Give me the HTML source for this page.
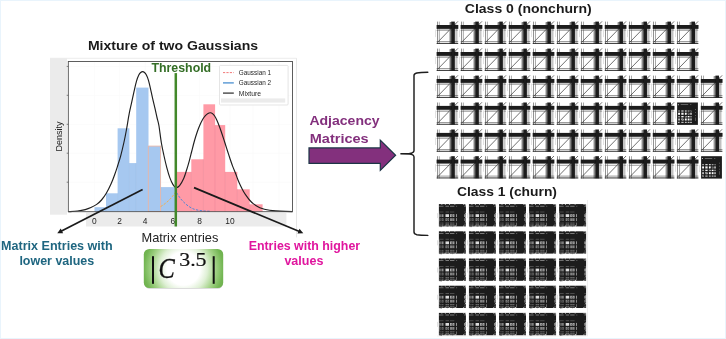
<!DOCTYPE html>
<html><head><meta charset="utf-8"><title>Mixture of two Gaussians</title>
<style>
html,body{margin:0;padding:0;background:#fff;}
body{width:726px;height:339px;overflow:hidden;font-family:"Liberation Sans", sans-serif;}
svg{display:block;}
text{font-family:"Liberation Sans", sans-serif;}
.b{font-weight:bold;}
.ser{font-family:"Liberation Serif", serif;}
</style></head><body>
<svg width="726" height="339" viewBox="0 0 726 339">
<defs>
<radialGradient id="gg" gradientUnits="userSpaceOnUse" cx="183.5" cy="268.6" r="46">
<stop offset="0" stop-color="#ffffff"/><stop offset="0.36" stop-color="#ffffff"/><stop offset="0.52" stop-color="#dff0d5"/><stop offset="0.7" stop-color="#a2d286"/><stop offset="0.86" stop-color="#73b653"/><stop offset="1" stop-color="#69ad48"/>
</radialGradient>
<filter id="bl" x="-10%" y="-10%" width="120%" height="120%"><feGaussianBlur stdDeviation="0.16"/></filter>
<filter id="bl2" x="-10%" y="-10%" width="120%" height="120%"><feGaussianBlur stdDeviation="0.5"/></filter>

<g id="t0">
<rect x="0" y="0" width="20.8" height="22.2" fill="#fff"/>
<rect x="-1.9" y="8" width="0.5" height="7.5" fill="#c4c4c4"/>
<rect x="0.25" y="0" width="0.55" height="22.2" fill="#3a3a3a"/>
<rect x="2.0" y="0" width="0.5" height="22.2" fill="#555"/>
<rect x="0" y="7.2" width="20.8" height="0.8" fill="#a0a0a0"/>
<rect x="-0.3" y="8.9" width="21.4" height="0.45" fill="#555"/>
<rect x="12.2" y="0.6" width="1.0" height="21.6" fill="#bdbdbd"/>
<rect x="13.2" y="0.4" width="1.2" height="21.8" fill="#6a6a6a"/>
<rect x="17.7" y="2" width="0.8" height="20.2" fill="#7a7a7a"/>
<rect x="18.5" y="3" width="0.7" height="19.2" fill="#d6d6d6"/>
<rect x="19.4" y="3" width="0.4" height="19.2" fill="#777"/>
<rect x="20.4" y="3" width="0.35" height="19.2" fill="#aaa"/>
<line x1="0.7" y1="20.7" x2="21.0" y2="-0.2" stroke="#222" stroke-width="0.65"/>
<rect x="-0.3" y="19.6" width="21.6" height="0.5" fill="#3a3a3a"/>
<rect x="-0.3" y="21.3" width="21.6" height="0.9" fill="#1a1a1a"/>
<rect x="-0.3" y="3.4" width="21.7" height="3.85" fill="#1a1a1a"/>
<rect x="14.3" y="0" width="3.6" height="22.2" fill="#1a1a1a"/>
</g>
<g id="t0b">
<rect x="0" y="0" width="20.8" height="22.4" fill="#1c1c1c"/>
<rect x="1.0" y="8.0" width="1.9" height="1.0" fill="#fff" opacity="0.7"/><rect x="4.2" y="8.0" width="2.3" height="1.0" fill="#fff" opacity="1.0"/><rect x="7.8" y="8.0" width="1.8" height="1.0" fill="#fff" opacity="1.0"/><rect x="10.6" y="8.0" width="1.8" height="1.0" fill="#fff" opacity="0.7"/><rect x="13.3" y="8.0" width="1.2" height="1.0" fill="#fff" opacity="0.85"/><rect x="1.0" y="10.2" width="1.9" height="2.1" fill="#fff" opacity="1.0"/><rect x="4.2" y="10.2" width="2.3" height="2.1" fill="#fff" opacity="0.95"/><rect x="7.8" y="10.2" width="1.8" height="2.1" fill="#fff" opacity="1.0"/><rect x="10.6" y="10.2" width="1.8" height="2.1" fill="#fff" opacity="0.55"/><rect x="13.3" y="10.2" width="1.2" height="2.1" fill="#fff" opacity="1.0"/><rect x="1.0" y="13.5" width="1.9" height="1.4" fill="#fff" opacity="0.55"/><rect x="4.2" y="13.5" width="2.3" height="1.4" fill="#fff" opacity="0.95"/><rect x="7.8" y="13.5" width="1.8" height="1.4" fill="#fff" opacity="0.85"/><rect x="10.6" y="13.5" width="1.8" height="1.4" fill="#fff" opacity="1.0"/><rect x="13.3" y="13.5" width="1.2" height="1.4" fill="#fff" opacity="0.7"/><rect x="1.0" y="16.0" width="1.9" height="2.0" fill="#fff" opacity="0.7"/><rect x="4.2" y="16.0" width="2.3" height="2.0" fill="#fff" opacity="0.95"/><rect x="7.8" y="16.0" width="1.8" height="2.0" fill="#fff" opacity="1.0"/><rect x="10.6" y="16.0" width="1.8" height="2.0" fill="#fff" opacity="1.0"/><rect x="13.3" y="16.0" width="1.2" height="2.0" fill="#fff" opacity="0.95"/><rect x="1.0" y="19.3" width="1.9" height="1.2" fill="#fff" opacity="0.95"/><rect x="4.2" y="19.3" width="2.3" height="1.2" fill="#fff" opacity="0.7"/><rect x="7.8" y="19.3" width="1.8" height="1.2" fill="#fff" opacity="0.7"/><rect x="10.6" y="19.3" width="1.8" height="1.2" fill="#fff" opacity="0.7"/><rect x="13.3" y="19.3" width="1.2" height="1.2" fill="#fff" opacity="1.0"/>
<line x1="0.8" y1="21.4" x2="14.6" y2="7.6" stroke="#1c1c1c" stroke-width="0.7"/>
<rect x="3.6" y="2.0" width="7.5" height="0.5" fill="#aaa"/>
<rect x="0.8" y="1.8" width="1.0" height="0.9" fill="#ddd"/>
<rect x="13" y="2.0" width="1.2" height="0.5" fill="#999"/>
<rect x="18.4" y="6.5" width="0.5" height="1" fill="#999"/><rect x="18.4" y="9.5" width="0.5" height="1" fill="#999"/><rect x="18.4" y="12.5" width="0.5" height="1" fill="#999"/><rect x="18.4" y="15" width="0.5" height="3.5" fill="#888"/>
<rect x="-1.6" y="9" width="0.5" height="7" fill="#c4c4c4"/>
</g>
<g id="t1">
<rect x="0" y="0" width="27.0" height="22.3" fill="#1b1b1b"/>
<g fill="#fff">
<rect x="2.7" y="-0.1" width="0.6" height="0.9"/><rect x="6.0" y="-0.1" width="0.7" height="0.9"/><rect x="10.3" y="-0.1" width="0.7" height="0.9"/><rect x="15.7" y="-0.1" width="0.6" height="0.8"/><rect x="24.6" y="-0.1" width="0.7" height="1.0"/><rect x="26.5" y="-0.1" width="0.6" height="1.6"/>
<rect x="2.7" y="21.6" width="0.6" height="0.8"/><rect x="5.8" y="21.4" width="0.8" height="1.0"/><rect x="10.3" y="21.5" width="0.7" height="0.9"/><rect x="15.8" y="21.3" width="0.9" height="1.1"/><rect x="24.4" y="21.5" width="0.7" height="0.9"/>
<rect x="26.4" y="9.2" width="0.7" height="0.7"/><rect x="26.4" y="13.1" width="0.7" height="0.9"/><rect x="26.4" y="17.3" width="0.7" height="0.9"/>
<rect x="-0.1" y="8.8" width="0.5" height="0.8"/><rect x="-0.1" y="13.1" width="0.5" height="0.9"/><rect x="-0.1" y="17.2" width="0.5" height="0.9"/>
</g>
<rect x="-1.9" y="9" width="0.6" height="5" fill="#cdcdcd"/>
<rect x="0" y="1.7" width="4.6" height="0.8" fill="#c8c8c8" opacity="0.6"/><rect x="6.6" y="1.7" width="3.5" height="0.8" fill="#c8c8c8" opacity="0.7"/><rect x="11.1" y="1.7" width="4.4" height="0.8" fill="#c8c8c8" opacity="0.7"/><rect x="25.2" y="1.7" width="1.8" height="0.8" fill="#c8c8c8" opacity="0.6"/><rect x="17.2" y="1.7" width="1.0" height="0.8" fill="#bbb" opacity=".6"/><rect x="0" y="7.5" width="4.6" height="0.8" fill="#c8c8c8" opacity="0.35"/><rect x="6.6" y="7.5" width="3.5" height="0.8" fill="#c8c8c8" opacity="0.4"/><rect x="11.1" y="7.5" width="4.4" height="0.8" fill="#c8c8c8" opacity="0.35"/><rect x="25.2" y="7.5" width="1.8" height="0.8" fill="#c8c8c8" opacity="0.3"/><rect x="0" y="10.1" width="4.6" height="2.8" fill="#ececec" opacity="0.55"/><rect x="6.6" y="10.1" width="3.5" height="2.8" fill="#ececec" opacity="0.92"/><rect x="11.1" y="10.1" width="4.4" height="2.8" fill="#ececec" opacity="0.7"/><rect x="25.2" y="10.1" width="1.8" height="2.8" fill="#ececec" opacity="0.6"/><rect x="0" y="14.1" width="4.6" height="2.8" fill="#ececec" opacity="0.42"/><rect x="6.6" y="14.1" width="3.5" height="2.8" fill="#ececec" opacity="0.55"/><rect x="11.1" y="14.1" width="4.4" height="2.8" fill="#ececec" opacity="0.5"/><rect x="25.2" y="14.1" width="1.8" height="2.8" fill="#ececec" opacity="0.45"/><rect x="0" y="18.6" width="4.6" height="0.7" fill="#d8d8d8" opacity="0.5"/><rect x="6.6" y="18.6" width="3.5" height="0.7" fill="#d8d8d8" opacity="0.6"/><rect x="11.1" y="18.6" width="4.4" height="0.7" fill="#d8d8d8" opacity="0.55"/><rect x="25.2" y="18.6" width="1.8" height="0.7" fill="#d8d8d8" opacity="0.3"/><rect x="0" y="20.0" width="4.6" height="2.0" fill="#ececec" opacity="0.28"/><rect x="6.6" y="20.0" width="3.5" height="2.0" fill="#ececec" opacity="0.36"/><rect x="11.1" y="20.0" width="4.4" height="2.0" fill="#ececec" opacity="0.3"/><rect x="25.2" y="20.0" width="1.8" height="2.0" fill="#ececec" opacity="0.25"/>
<rect x="17.3" y="10.0" width="0.6" height="3.0" fill="#e4e4e4"/>
<rect x="17.3" y="14.0" width="0.6" height="3.0" fill="#cfcfcf"/>
<rect x="17.3" y="18.5" width="0.6" height="3.4" fill="#999"/>
<g fill="#1b1b1b">
<rect x="0.9" y="9" width="0.6" height="14" opacity=".8"/>
<rect x="2.5" y="9" width="0.6" height="14" opacity=".8"/>
<rect x="8.2" y="13.6" width="0.5" height="9" opacity=".5"/>
<rect x="13.2" y="9" width="0.5" height="14" opacity=".4"/>
</g>
<circle cx="13.3" cy="11.6" r="0.9" fill="none" stroke="#333" stroke-width="0.5"/>
<circle cx="8.6" cy="15.6" r="0.9" fill="none" stroke="#2a2a2a" stroke-width="0.5"/>
<circle cx="2.6" cy="15.6" r="0.9" fill="none" stroke="#2a2a2a" stroke-width="0.5"/>
</g>
</defs>

<rect x="0" y="0" width="726" height="339" fill="#fff"/>
<rect x="0.5" y="0.5" width="725" height="338" fill="none" stroke="#e9f4fc" stroke-width="1"/>
<g id="chart">
<rect x="50" y="58.6" width="17" height="156.1" fill="#ebebeb"/>
<rect x="86" y="212.6" width="200.4" height="13.9" fill="#ebebeb"/>
<line x1="50" y1="58.3" x2="296.5" y2="58.3" stroke="#e4e4e4" stroke-width="0.7"/>
<line x1="296.5" y1="58.3" x2="296.5" y2="237.4" stroke="#dcdcdc" stroke-width="0.7"/>
<rect x="68.3" y="61.5" width="224.2" height="150.2" fill="#fff"/>
<line x1="68.3" y1="66.4" x2="292.5" y2="66.4" stroke="#f8f8f8" stroke-width="0.6"/>
<line x1="66.7" y1="66.4" x2="68.3" y2="66.4" stroke="#555" stroke-width="0.7"/>
<line x1="68.3" y1="95.3" x2="292.5" y2="95.3" stroke="#f8f8f8" stroke-width="0.6"/>
<line x1="66.7" y1="95.3" x2="68.3" y2="95.3" stroke="#555" stroke-width="0.7"/>
<line x1="68.3" y1="124.3" x2="292.5" y2="124.3" stroke="#f8f8f8" stroke-width="0.6"/>
<line x1="66.7" y1="124.3" x2="68.3" y2="124.3" stroke="#555" stroke-width="0.7"/>
<line x1="68.3" y1="153.2" x2="292.5" y2="153.2" stroke="#f8f8f8" stroke-width="0.6"/>
<line x1="66.7" y1="153.2" x2="68.3" y2="153.2" stroke="#555" stroke-width="0.7"/>
<line x1="68.3" y1="182.2" x2="292.5" y2="182.2" stroke="#f8f8f8" stroke-width="0.6"/>
<line x1="66.7" y1="182.2" x2="68.3" y2="182.2" stroke="#555" stroke-width="0.7"/>
<line x1="94.4" y1="61.5" x2="94.4" y2="211.7" stroke="#f8f8f8" stroke-width="0.6"/>
<line x1="119.6" y1="61.5" x2="119.6" y2="211.7" stroke="#f8f8f8" stroke-width="0.6"/>
<line x1="145.2" y1="61.5" x2="145.2" y2="211.7" stroke="#f8f8f8" stroke-width="0.6"/>
<line x1="172.8" y1="61.5" x2="172.8" y2="211.7" stroke="#f8f8f8" stroke-width="0.6"/>
<line x1="199.6" y1="61.5" x2="199.6" y2="211.7" stroke="#f8f8f8" stroke-width="0.6"/>
<line x1="230.0" y1="61.5" x2="230.0" y2="211.7" stroke="#f8f8f8" stroke-width="0.6"/>
<line x1="253" y1="61.5" x2="253" y2="211.7" stroke="#f8f8f8" stroke-width="0.6"/>
<line x1="279" y1="61.5" x2="279" y2="211.7" stroke="#f8f8f8" stroke-width="0.6"/>
<rect x="94.5" y="207.2" width="11.50" height="4.50" fill="#a6c8f0"/>
<rect x="106.0" y="193.3" width="11.60" height="18.40" fill="#a6c8f0"/>
<rect x="117.6" y="128.3" width="11.80" height="83.40" fill="#a6c8f0"/>
<rect x="129.4" y="163.1" width="6.80" height="48.60" fill="#a6c8f0"/>
<rect x="136.2" y="87.6" width="12.30" height="124.10" fill="#a6c8f0"/>
<rect x="148.5" y="146.1" width="12.10" height="65.60" fill="#a6c8f0"/>
<rect x="160.6" y="187.1" width="14.60" height="24.60" fill="#a6c8f0"/>
<line x1="106.0" y1="207.2" x2="106.0" y2="211.7" stroke="#93b8e6" stroke-width="0.6"/>
<line x1="117.6" y1="193.3" x2="117.6" y2="211.7" stroke="#93b8e6" stroke-width="0.6"/>
<line x1="129.4" y1="163.1" x2="129.4" y2="211.7" stroke="#93b8e6" stroke-width="0.6"/>
<line x1="136.2" y1="163.1" x2="136.2" y2="211.7" stroke="#93b8e6" stroke-width="0.6"/>
<line x1="148.5" y1="146.1" x2="148.5" y2="211.7" stroke="#93b8e6" stroke-width="0.6"/>
<line x1="160.6" y1="187.1" x2="160.6" y2="211.7" stroke="#93b8e6" stroke-width="0.6"/>
<rect x="148.3" y="146.1" width="12.3" height="65.40" fill="none" stroke="#e9b7a8" stroke-width="0.9"/>
<rect x="176.4" y="171.9" width="14.90" height="39.80" fill="#ff9aa6"/>
<rect x="191.3" y="159.3" width="12.10" height="52.40" fill="#ff9aa6"/>
<rect x="203.4" y="104.3" width="11.70" height="107.40" fill="#ff9aa6"/>
<rect x="215.1" y="125.1" width="10.10" height="86.60" fill="#ff9aa6"/>
<rect x="225.2" y="171.9" width="12.10" height="39.80" fill="#ff9aa6"/>
<rect x="237.3" y="189.3" width="12.40" height="22.40" fill="#ff9aa6"/>
<rect x="249.7" y="204.3" width="12.90" height="7.40" fill="#ff9aa6"/>
<line x1="191.3" y1="171.9" x2="191.3" y2="211.7" stroke="#f08595" stroke-width="0.7"/>
<line x1="203.4" y1="159.3" x2="203.4" y2="211.7" stroke="#f08595" stroke-width="0.7"/>
<line x1="215.1" y1="125.1" x2="215.1" y2="211.7" stroke="#f08595" stroke-width="0.7"/>
<line x1="225.2" y1="171.9" x2="225.2" y2="211.7" stroke="#f08595" stroke-width="0.7"/>
<line x1="237.3" y1="189.3" x2="237.3" y2="211.7" stroke="#f08595" stroke-width="0.7"/>
<line x1="249.7" y1="204.3" x2="249.7" y2="211.7" stroke="#f08595" stroke-width="0.7"/>
<path d="M160.6 206.6 C166 203.5 171 199 175.2 192.6" fill="none" stroke="#efb052" stroke-width="1.0" stroke-dasharray="2.4 1.4"/>
<path d="M176.6 192.6 C180 199 186 205.5 193 208.8 C198 210.6 204 211.2 210.6 211.3" fill="none" stroke="#4f86d8" stroke-width="1.0" stroke-dasharray="2.4 1.4"/>
<path d="M68.30 211.70 C69.83 211.58 74.68 211.35 77.50 211.00 C80.32 210.65 82.97 210.17 85.20 209.60 C87.43 209.03 88.98 208.47 90.90 207.60 C92.82 206.73 94.93 205.67 96.70 204.40 C98.47 203.13 99.90 201.85 101.50 200.00 C103.10 198.15 104.70 196.00 106.30 193.30 C107.90 190.60 109.67 187.02 111.10 183.80 C112.53 180.58 113.78 177.08 114.90 174.00 C116.02 170.92 116.83 168.33 117.80 165.30 C118.77 162.27 119.68 159.60 120.70 155.80 C121.72 152.00 122.95 146.80 123.90 142.50 C124.85 138.20 125.52 134.80 126.40 130.00 C127.28 125.20 128.35 118.17 129.20 113.70 C130.05 109.23 130.70 106.88 131.50 103.20 C132.30 99.52 133.17 95.28 134.00 91.60 C134.83 87.92 135.70 83.87 136.50 81.10 C137.30 78.33 138.10 76.43 138.80 75.00 C139.50 73.57 140.07 73.07 140.70 72.50 C141.33 71.93 141.97 71.60 142.60 71.60 C143.23 71.60 143.87 71.93 144.50 72.50 C145.13 73.07 145.75 73.73 146.40 75.00 C147.05 76.27 147.75 77.97 148.40 80.10 C149.05 82.23 149.60 84.75 150.30 87.80 C151.00 90.85 151.80 94.88 152.60 98.40 C153.40 101.92 154.37 105.72 155.10 108.90 C155.83 112.08 156.37 114.73 157.00 117.50 C157.63 120.27 158.18 121.33 158.90 125.50 C159.62 129.67 160.48 137.58 161.30 142.50 C162.12 147.42 162.88 150.82 163.80 155.00 C164.72 159.18 165.80 163.83 166.80 167.60 C167.80 171.37 168.77 174.77 169.80 177.60 C170.83 180.43 171.97 182.93 173.00 184.60 C174.03 186.27 174.90 187.43 176.00 187.60 C177.10 187.77 178.30 187.17 179.60 185.60 C180.90 184.03 182.63 180.80 183.80 178.20 C184.97 175.60 185.68 172.90 186.60 170.00 C187.52 167.10 188.43 163.97 189.30 160.80 C190.17 157.63 190.95 154.30 191.80 151.00 C192.65 147.70 193.50 144.17 194.40 141.00 C195.30 137.83 196.28 134.67 197.20 132.00 C198.12 129.33 198.95 127.17 199.90 125.00 C200.85 122.83 201.98 120.57 202.90 119.00 C203.82 117.43 204.55 116.53 205.40 115.60 C206.25 114.67 207.17 113.87 208.00 113.40 C208.83 112.93 209.65 112.77 210.40 112.80 C211.15 112.83 211.82 113.10 212.50 113.60 C213.18 114.10 213.75 114.65 214.50 115.80 C215.25 116.95 216.15 118.63 217.00 120.50 C217.85 122.37 218.73 124.67 219.60 127.00 C220.47 129.33 221.32 131.87 222.20 134.50 C223.08 137.13 224.02 140.05 224.90 142.80 C225.78 145.55 226.62 148.27 227.50 151.00 C228.38 153.73 229.32 156.60 230.20 159.20 C231.08 161.80 231.92 164.27 232.80 166.60 C233.68 168.93 234.63 170.97 235.50 173.20 C236.37 175.43 237.12 177.82 238.00 180.00 C238.88 182.18 239.88 184.38 240.80 186.30 C241.72 188.22 242.60 189.93 243.50 191.50 C244.40 193.07 245.20 194.28 246.20 195.70 C247.20 197.12 248.33 198.68 249.50 200.00 C250.67 201.32 251.87 202.53 253.20 203.60 C254.53 204.67 256.02 205.58 257.50 206.40 C258.98 207.22 260.52 207.93 262.10 208.50 C263.68 209.07 265.23 209.45 267.00 209.80 C268.77 210.15 270.53 210.38 272.70 210.60 C274.87 210.82 276.72 210.93 280.00 211.10 C283.28 211.27 290.33 211.52 292.40 211.60" fill="none" stroke="#1e1e1e" stroke-width="1.15" stroke-linejoin="round"/>
<rect x="68.3" y="61.5" width="224.2" height="150.2" fill="none" stroke="#4d4d4d" stroke-width="0.9"/>
<text x="94.4" y="224.1" font-size="8.4" fill="#1e1e1e" text-anchor="middle">0</text>
<text x="119.6" y="224.1" font-size="8.4" fill="#1e1e1e" text-anchor="middle">2</text>
<text x="145.2" y="224.1" font-size="8.4" fill="#1e1e1e" text-anchor="middle">4</text>
<text x="172.8" y="224.1" font-size="8.4" fill="#1e1e1e" text-anchor="middle">6</text>
<text x="199.6" y="224.1" font-size="8.4" fill="#1e1e1e" text-anchor="middle">8</text>
<text x="230.0" y="224.1" font-size="8.4" fill="#1e1e1e" text-anchor="middle">10</text>
<text transform="translate(61.8 136.4) rotate(-90)" font-size="9" fill="#222" text-anchor="middle">Density</text>
<rect x="219.5" y="65.4" width="68.6" height="39.6" fill="#fff" stroke="#dedede" stroke-width="0.8" rx="1"/>
<line x1="223" y1="72.6" x2="233.8" y2="72.6" stroke="#f06a6a" stroke-width="0.9" stroke-dasharray="2.2 1.2"/>
<line x1="223" y1="82.9" x2="233.8" y2="82.9" stroke="#4a8fd0" stroke-width="1.3"/>
<line x1="223" y1="93.1" x2="233.8" y2="93.1" stroke="#3a3a3a" stroke-width="1.3"/>
<text x="238.8" y="75.1" font-size="7.2" fill="#1e1e1e" textLength="32.3" lengthAdjust="spacingAndGlyphs">Gaussian 1</text>
<text x="238.8" y="85.4" font-size="7.2" fill="#1e1e1e" textLength="32.3" lengthAdjust="spacingAndGlyphs">Gaussian 2</text>
<text x="238.8" y="95.6" font-size="7.2" fill="#1e1e1e" textLength="22.2" lengthAdjust="spacingAndGlyphs">Mixture</text>
<rect x="221" y="98.4" width="64.2" height="4.2" fill="#ebebeb"/>
</g>
<rect x="174.55" y="73.1" width="2.5" height="153.4" fill="#42882a"/>
<text x="151.4" y="71.9" font-size="11.9" class="b" fill="#346e26" textLength="59.8" lengthAdjust="spacingAndGlyphs">Threshold</text>
<text x="87.9" y="50.2" font-size="13" class="b" fill="#1a1a1a" textLength="170.2" lengthAdjust="spacingAndGlyphs">Mixture of two Gaussians</text>
<line x1="142.60" y1="189.40" x2="61.04" y2="231.28" stroke="#1a1a1a" stroke-width="1.7"/><polygon points="57.30,233.20 60.74,228.51 63.11,233.14" fill="#1a1a1a"/>
<line x1="194.00" y1="187.60" x2="299.42" y2="231.58" stroke="#1a1a1a" stroke-width="1.7"/><polygon points="303.30,233.20 297.50,233.60 299.50,228.80" fill="#1a1a1a"/>
<text x="56.9" y="249.7" font-size="11.9" class="b" fill="#1f6680" text-anchor="middle" textLength="111.6" lengthAdjust="spacingAndGlyphs">Matrix Entries with</text>
<text x="56.8" y="265.3" font-size="11.9" class="b" fill="#1f6680" text-anchor="middle" textLength="74.8" lengthAdjust="spacingAndGlyphs">lower values</text>
<text x="304.4" y="249.7" font-size="11.9" class="b" fill="#e0169e" text-anchor="middle" textLength="111.4" lengthAdjust="spacingAndGlyphs">Entries with higher</text>
<text x="303.9" y="265.4" font-size="11.9" class="b" fill="#e0169e" text-anchor="middle" textLength="39" lengthAdjust="spacingAndGlyphs">values</text>
<text x="141.5" y="242" font-size="12.4" fill="#222" textLength="76.8" lengthAdjust="spacingAndGlyphs">Matrix entries</text>
<rect x="144.4" y="250" width="78.6" height="38.8" rx="5.5" fill="#8a8a8a" opacity=".4" filter="url(#bl2)"/>
<rect x="143.8" y="248.9" width="79.4" height="39.2" rx="5.5" fill="url(#gg)"/>
<rect x="152.0" y="256.2" width="2.0" height="27.6" fill="#111"/>
<rect x="212.7" y="256.2" width="2.0" height="27.6" fill="#111"/>
<text transform="translate(158.6 277.8) scale(0.8 1)" font-size="30.5" class="ser" font-style="italic" fill="#111" stroke="#111" stroke-width="0.35">C</text>
<text x="179.2" y="266" font-size="19.8" class="ser" fill="#111" stroke="#111" stroke-width="0.2" textLength="27.4" lengthAdjust="spacingAndGlyphs">3.5</text>
<polygon points="309,147.9 380.3,147.9 380.3,140.1 395.6,155.3 380.3,170.4 380.3,163.3 309,163.3" fill="#83307d" stroke="#1c3546" stroke-width="1.2" stroke-linejoin="miter"/>
<text x="309.4" y="124.8" font-size="13.7" class="b" fill="#83307d" textLength="70.2" lengthAdjust="spacingAndGlyphs">Adjacency</text>
<text x="309.8" y="143" font-size="13.7" class="b" fill="#83307d" textLength="58.8" lengthAdjust="spacingAndGlyphs">Matrices</text>
<path d="M427.8 72.3 C423 72.4 419.5 72.6 416.8 73.0 C414.8 73.4 414 74.0 414 75.6 L414 150.6 C414 152.6 412.6 153.3 409.4 153.5 L400.4 153.8 L409.4 154.1 C412.6 154.3 414 155 414 157 L414 232.1 C414 233.7 414.8 234.3 416.8 234.7 C419.5 235.1 423 235.3 427.8 235.4" fill="none" stroke="#1e1e1e" stroke-width="1.45" stroke-linecap="round"/>
<text x="464.8" y="12.8" font-size="12.8" class="b" fill="#1a1a1a" textLength="126.9" lengthAdjust="spacingAndGlyphs">Class 0 (nonchurn)</text>
<text x="456.9" y="195.9" font-size="12.8" class="b" fill="#1a1a1a" textLength="100.1" lengthAdjust="spacingAndGlyphs">Class 1 (churn)</text>
<g filter="url(#bl)">
<use href="#t0" x="436.90" y="21.6"/>
<use href="#t0" x="460.92" y="21.6"/>
<use href="#t0" x="484.94" y="21.6"/>
<use href="#t0" x="508.96" y="21.6"/>
<use href="#t0" x="532.98" y="21.6"/>
<use href="#t0" x="557.00" y="21.6"/>
<use href="#t0" x="581.02" y="21.6"/>
<use href="#t0" x="605.04" y="21.6"/>
<use href="#t0" x="629.06" y="21.6"/>
<use href="#t0" x="653.08" y="21.6"/>
<use href="#t0" x="677.10" y="21.6"/>
<use href="#t0" x="436.90" y="48.6"/>
<use href="#t0" x="460.92" y="48.6"/>
<use href="#t0" x="484.94" y="48.6"/>
<use href="#t0" x="508.96" y="48.6"/>
<use href="#t0" x="532.98" y="48.6"/>
<use href="#t0" x="557.00" y="48.6"/>
<use href="#t0" x="581.02" y="48.6"/>
<use href="#t0" x="605.04" y="48.6"/>
<use href="#t0" x="629.06" y="48.6"/>
<use href="#t0" x="653.08" y="48.6"/>
<use href="#t0" x="677.10" y="48.6"/>
<use href="#t0" x="436.90" y="75.6"/>
<use href="#t0" x="460.92" y="75.6"/>
<use href="#t0" x="484.94" y="75.6"/>
<use href="#t0" x="508.96" y="75.6"/>
<use href="#t0" x="532.98" y="75.6"/>
<use href="#t0" x="557.00" y="75.6"/>
<use href="#t0" x="581.02" y="75.6"/>
<use href="#t0" x="605.04" y="75.6"/>
<use href="#t0" x="629.06" y="75.6"/>
<use href="#t0" x="653.08" y="75.6"/>
<use href="#t0" x="677.10" y="75.6"/>
<use href="#t0" x="701.12" y="75.6"/>
<use href="#t0" x="436.90" y="102.5"/>
<use href="#t0" x="460.92" y="102.5"/>
<use href="#t0" x="484.94" y="102.5"/>
<use href="#t0" x="508.96" y="102.5"/>
<use href="#t0" x="532.98" y="102.5"/>
<use href="#t0" x="557.00" y="102.5"/>
<use href="#t0" x="581.02" y="102.5"/>
<use href="#t0" x="605.04" y="102.5"/>
<use href="#t0" x="629.06" y="102.5"/>
<use href="#t0" x="653.08" y="102.5"/>
<use href="#t0b" x="677.10" y="102.5"/>
<use href="#t0" x="701.12" y="102.5"/>
<use href="#t0" x="436.90" y="129.5"/>
<use href="#t0" x="460.92" y="129.5"/>
<use href="#t0" x="484.94" y="129.5"/>
<use href="#t0" x="508.96" y="129.5"/>
<use href="#t0" x="532.98" y="129.5"/>
<use href="#t0" x="557.00" y="129.5"/>
<use href="#t0" x="581.02" y="129.5"/>
<use href="#t0" x="605.04" y="129.5"/>
<use href="#t0" x="629.06" y="129.5"/>
<use href="#t0" x="653.08" y="129.5"/>
<use href="#t0" x="677.10" y="129.5"/>
<use href="#t0" x="701.12" y="129.5"/>
<use href="#t0" x="436.90" y="156.2"/>
<use href="#t0" x="460.92" y="156.2"/>
<use href="#t0" x="484.94" y="156.2"/>
<use href="#t0" x="508.96" y="156.2"/>
<use href="#t0" x="532.98" y="156.2"/>
<use href="#t0" x="557.00" y="156.2"/>
<use href="#t0" x="581.02" y="156.2"/>
<use href="#t0" x="605.04" y="156.2"/>
<use href="#t0" x="629.06" y="156.2"/>
<use href="#t0" x="653.08" y="156.2"/>
<use href="#t0" x="677.10" y="156.2"/>
<use href="#t0b" x="701.12" y="156.2"/>
</g>
<line x1="587.5" y1="200" x2="587.5" y2="336" stroke="#e6e6e6" stroke-width="0.7"/><line x1="437" y1="336" x2="587.5" y2="336" stroke="#ececec" stroke-width="0.7"/>
<g filter="url(#bl2)">
<use href="#t1" x="438.90" y="204.10"/>
<use href="#t1" x="468.95" y="204.10"/>
<use href="#t1" x="499.00" y="204.10"/>
<use href="#t1" x="529.05" y="204.10"/>
<use href="#t1" x="559.10" y="204.10"/>
<use href="#t1" x="438.90" y="231.30"/>
<use href="#t1" x="468.95" y="231.30"/>
<use href="#t1" x="499.00" y="231.30"/>
<use href="#t1" x="529.05" y="231.30"/>
<use href="#t1" x="559.10" y="231.30"/>
<use href="#t1" x="438.90" y="258.50"/>
<use href="#t1" x="468.95" y="258.50"/>
<use href="#t1" x="499.00" y="258.50"/>
<use href="#t1" x="529.05" y="258.50"/>
<use href="#t1" x="559.10" y="258.50"/>
<use href="#t1" x="438.90" y="285.70"/>
<use href="#t1" x="468.95" y="285.70"/>
<use href="#t1" x="499.00" y="285.70"/>
<use href="#t1" x="529.05" y="285.70"/>
<use href="#t1" x="559.10" y="285.70"/>
<use href="#t1" x="438.90" y="312.90"/>
<use href="#t1" x="468.95" y="312.90"/>
<use href="#t1" x="499.00" y="312.90"/>
<use href="#t1" x="529.05" y="312.90"/>
<use href="#t1" x="559.10" y="312.90"/>
</g>
</svg></body></html>
